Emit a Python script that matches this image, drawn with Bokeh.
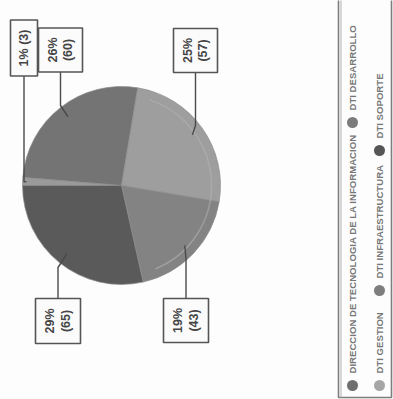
import math
from bokeh.plotting import figure
from bokeh.models import Range1d, ColumnDataSource
from bokeh.core.properties import value
from bokeh.embed import file_html
from bokeh.resources import INLINE

# --- data -------------------------------------------------------------
departments = [
    "DIRECCION DE TECNOLOGIA DE LA INFORMACION",
    "DTI DESARROLLO",
    "DTI GESTION",
    "DTI INFRAESTRUCTURA",
    "DTI SOPORTE",
]
counts = [3, 60, 57, 43, 65]
slice_colors = ["#9a9a9a", "#747474", "#9e9e9e", "#838383", "#5a5a5a"]
legend_colors = ["#6e6e6e", "#7c7c7c", "#a6a6a6", "#7e7e7e", "#565656"]

# --- page / frame -----------------------------------------------------
W, H = 393, 399
p = figure(width=W, height=H, output_backend="svg", toolbar_location=None,
           x_range=Range1d(0, W), y_range=Range1d(0, H),
           min_border=0, outline_line_color=None,
           background_fill_color="#fdfdfd", border_fill_color="#fdfdfd")
p.axis.visible = False
p.grid.visible = False

FONT = value("Liberation Sans")

# pie geometry (the whole chart is laid out turned a quarter turn)
cx, cy, R = 121, 214, 99
start = math.pi
total = sum(counts)

starts, ends, mids = [], [], []
acc = 0
for c in counts:
    a0 = start - 2 * math.pi * acc / total
    acc += c
    a1 = start - 2 * math.pi * acc / total
    starts.append(a0)
    ends.append(a1)
    mids.append((a0 + a1) / 2)

src = ColumnDataSource(dict(start=starts, end=ends, color=slice_colors))
p.wedge(x=cx, y=cy, radius=R, start_angle="start", end_angle="end",
        direction="clock", fill_color="color", line_color="#8e8e8e",
        line_width=0.7, source=src)

# soft bevel highlight on the right side of the disc
p.arc(x=cx, y=cy, radius=R - 9, start_angle=math.radians(-68),
      end_angle=math.radians(72), line_color="#b4b4b4", line_alpha=0.55,
      line_width=1.5)

# --- callout labels ---------------------------------------------------
pct = [round(100 * c / total) for c in counts]
texts = []
for i, (pp, c) in enumerate(zip(pct, counts)):
    texts.append(f"{pp}% ({c})" if i == 0 else f"{pp}%\n({c})")

# box centre x, box centre y, box w (x), box h (y), elbow y
boxes = [
    (23.5, 351.5, 27, 56, 217.6),
    (60, 349.5, 44, 44, 294),
    (195, 349, 44, 44, 274),
    (185.5, 79, 45, 44, 141),
    (57.5, 78.5, 45, 45, 132),
]

xs, ys = [], []
for (bx, by, bw, bh, ey), m, i in zip(boxes, mids, range(len(counts))):
    rr = R * (0.96 if i == 0 else 0.88)
    px, py = cx + rr * math.cos(m), cy + rr * math.sin(m)
    edge = by - bh / 2 if by > cy else by + bh / 2
    xs.append([bx, bx, px])
    ys.append([edge, ey, py])
p.multi_line(xs=xs, ys=ys, line_color="#4a4a4a", line_width=1.4)

p.rect(x=[b[0] for b in boxes], y=[b[1] for b in boxes],
       width=[b[2] for b in boxes], height=[b[3] for b in boxes],
       fill_color="#fbfbfb", line_color="#555555", line_width=1.6)
p.text(x=[b[0] for b in boxes], y=[b[1] for b in boxes], text=texts,
       angle=math.pi / 2, text_align="center", text_baseline="middle",
       text_font=FONT, text_font_style="bold", text_font_size="12.5px",
       text_color="#454545", text_line_height=1.1)

# --- legend -----------------------------------------------------------
p.quad(left=338, right=391, bottom=2, top=H + 10, fill_color="#fdfdfd",
       line_color="#7e7e7e", line_width=1.6)
p.line(x=[340.5, 340.5], y=[2, H + 10], line_color="#b0b0b0", line_width=1)

leg_x = [352, 352, 379, 379, 379]
leg_y = [14, 277, 14, 109, 249]
p.scatter(x=leg_x, y=leg_y, size=11, fill_color=legend_colors,
          line_color=None)
p.text(x=leg_x, y=[v + 12 for v in leg_y], text=departments,
       angle=math.pi / 2, text_align="left", text_baseline="middle",
       text_font=FONT, text_font_style="bold", text_font_size="9.6px",
       text_color="#777777")

open("out.html", "w").write(file_html(p, INLINE))
